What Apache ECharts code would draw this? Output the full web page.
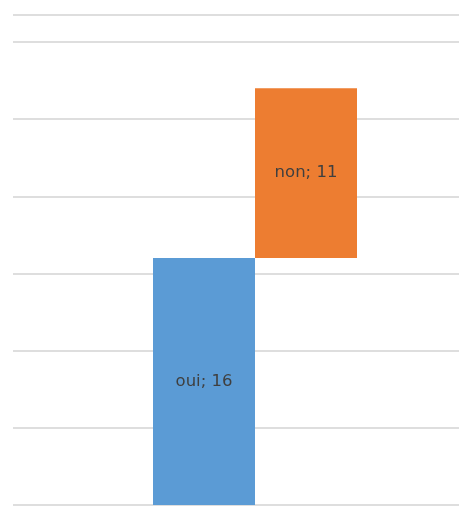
<!DOCTYPE html>
<html>
<head>
<meta charset="utf-8">
<style>
  html, body { margin: 0; padding: 0; background: #ffffff; overflow: hidden; }
  #chart { width: 459px; height: 524px; }
</style>
<script src="https://cdn.jsdelivr.net/npm/echarts@6/dist/echarts.min.js"></script>
</head>
<body>
<div id="chart"></div>
<script>
// One category, two side-by-side bars: "oui" from 0, "non" floating on top of it
const categories = [''];
const ouiValues = [16];
const nonValues = [11];
const nonBase = [16];  // invisible offset so "non" starts where "oui" ends
const spacer = [0];    // empty slot that pushes the pair to the right

const chart = echarts.init(document.getElementById('chart'));

const labelStyle = {
  show: true,
  position: 'inside',
  formatter: '{a}; {c}',
  color: '#3f3f3f',
  fontFamily: 'DejaVu Sans',
  fontSize: 16.5
};

chart.setOption({
  animation: false,
  backgroundColor: '#ffffff',
  grid: { left: 13, right: 0, top: 15, bottom: 19, containLabel: false },
  xAxis: {
    type: 'category',
    data: categories,
    axisLine: { show: false },
    axisTick: { show: false },
    axisLabel: { show: false }
  },
  yAxis: {
    type: 'value',
    min: 0,
    max: 31.75,
    interval: 5,
    axisLine: { show: false },
    axisTick: { show: false },
    axisLabel: { show: false },
    splitLine: { show: true, lineStyle: { color: '#dedede', width: 2 } }
  },
  series: [
    {
      name: 'spacer',
      type: 'bar',
      stack: 'pad',
      data: spacer,
      barWidth: 38,
      barGap: '0%',
      itemStyle: { color: 'transparent' },
      label: { show: false },
      silent: true
    },
    {
      name: 'oui',
      type: 'bar',
      stack: 'left',
      data: ouiValues,
      barWidth: 102,
      barGap: '0%',
      itemStyle: { color: '#5B9BD5' },
      label: labelStyle
    },
    {
      name: 'base',
      type: 'bar',
      stack: 'right',
      data: nonBase,
      barWidth: 102,
      barGap: '0%',
      itemStyle: { color: 'transparent' },
      label: { show: false },
      silent: true
    },
    {
      name: 'non',
      type: 'bar',
      stack: 'right',
      data: nonValues,
      barWidth: 102,
      barGap: '0%',
      itemStyle: { color: '#ED7D31' },
      label: labelStyle
    }
  ]
});
</script>
</body>
</html>
